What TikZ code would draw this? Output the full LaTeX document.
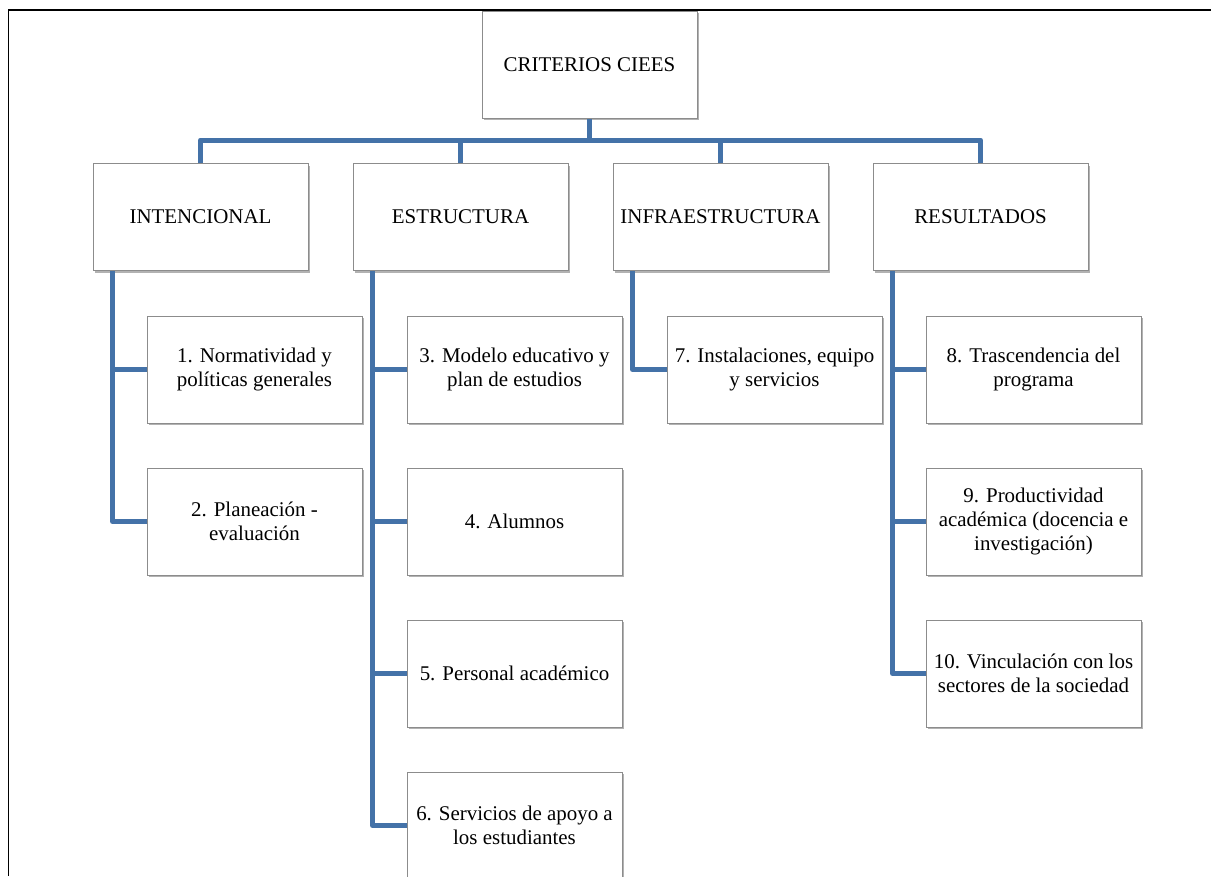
\documentclass[tikz,border=0pt]{standalone}
\usepackage{fontspec}
\setmainfont{Liberation Serif}
\usetikzlibrary{shadows}
\definecolor{conncol}{RGB}{68,114,168}
\definecolor{boxline}{RGB}{140,140,140}
\tikzset{
 box/.style={draw=boxline, line width=0.75pt, fill=white, minimum width=161.25pt, minimum height=80.25pt, inner sep=0pt, align=center, font=\fontsize{15.7}{18}\selectfont, drop shadow={shadow xshift=1.5pt, shadow yshift=-1.8pt, fill=black, opacity=0.3}},
 conn/.style={draw=conncol, line width=3.75pt, line join=round}
}
\begin{document}
\begin{tikzpicture}[x=0.75pt,y=-0.75pt]
\useasboundingbox (0,0) rectangle (1211,876);
\draw[line width=1.2pt] (8.5,876) -- (8.5,10) -- (1211,10);
% root
\node[box] (root) at (589.5,64.5) {CRITERIOS CIEES};
% level 2
\node[box] (int) at (200.5,217) {INTENCIONAL};
\node[box] (est) at (460.5,217) {ESTRUCTURA};
\node[box] (inf) at (720.5,217) {INFRAESTRUCTURA};
\node[box] (res) at (980.5,217) {RESULTADOS};
% level 3
\node[box] (c1) at (254.5,369.5) {1. Normatividad y\\políticas generales};
\node[box] (c2) at (254.5,521.5) {2. Planeación -\\evaluación};
\node[box] (c3) at (514.5,369.5) {3. Modelo educativo y\\plan de estudios};
\node[box] (c4) at (514.5,521.5) {4. Alumnos};
\node[box] (c5) at (514.5,673.5) {5. Personal académico};
\node[box] (c6) at (514.5,825.5) {6. Servicios de apoyo a\\los estudiantes};
\node[box] (c7) at (774.5,369.5) {7. Instalaciones, equipo\\y servicios};
\node[box] (c8) at (1033.5,369.5) {8. Trascendencia del\\programa};
\node[box] (c9) at (1033.5,521.5) {9. Productividad\\académica (docencia e\\investigación)};
\node[box] (c10) at (1033.5,673.5) {10. Vinculación con los\\sectores de la sociedad};
% bus
\coordinate (bus) at (0,140);
\draw[conn] (int.north) -- (int.north |- bus) -- (res.north |- bus) -- (res.north);
\draw[conn] (root.south) -- (root.south |- bus);
\draw[conn] (est.north) -- (est.north |- bus);
\draw[conn] (inf.north) -- (inf.north |- bus);
% spines
\coordinate (sI) at ([xshift=15pt]int.south west);
\coordinate (sE) at ([xshift=15pt]est.south west);
\coordinate (sF) at ([xshift=15pt]inf.south west);
\coordinate (sR) at ([xshift=15pt]res.south west);
\draw[conn] (sI) |- (c2.west);
\draw[conn] (c1.west) -- (c1.west -| sI);
\draw[conn] (sE) |- (c6.west);
\draw[conn] (c3.west) -- (c3.west -| sE);
\draw[conn] (c4.west) -- (c4.west -| sE);
\draw[conn] (c5.west) -- (c5.west -| sE);
\draw[conn] (sF) |- (c7.west);
\draw[conn] (sR) |- (c10.west);
\draw[conn] (c8.west) -- (c8.west -| sR);
\draw[conn] (c9.west) -- (c9.west -| sR);
\end{tikzpicture}
\end{document}
